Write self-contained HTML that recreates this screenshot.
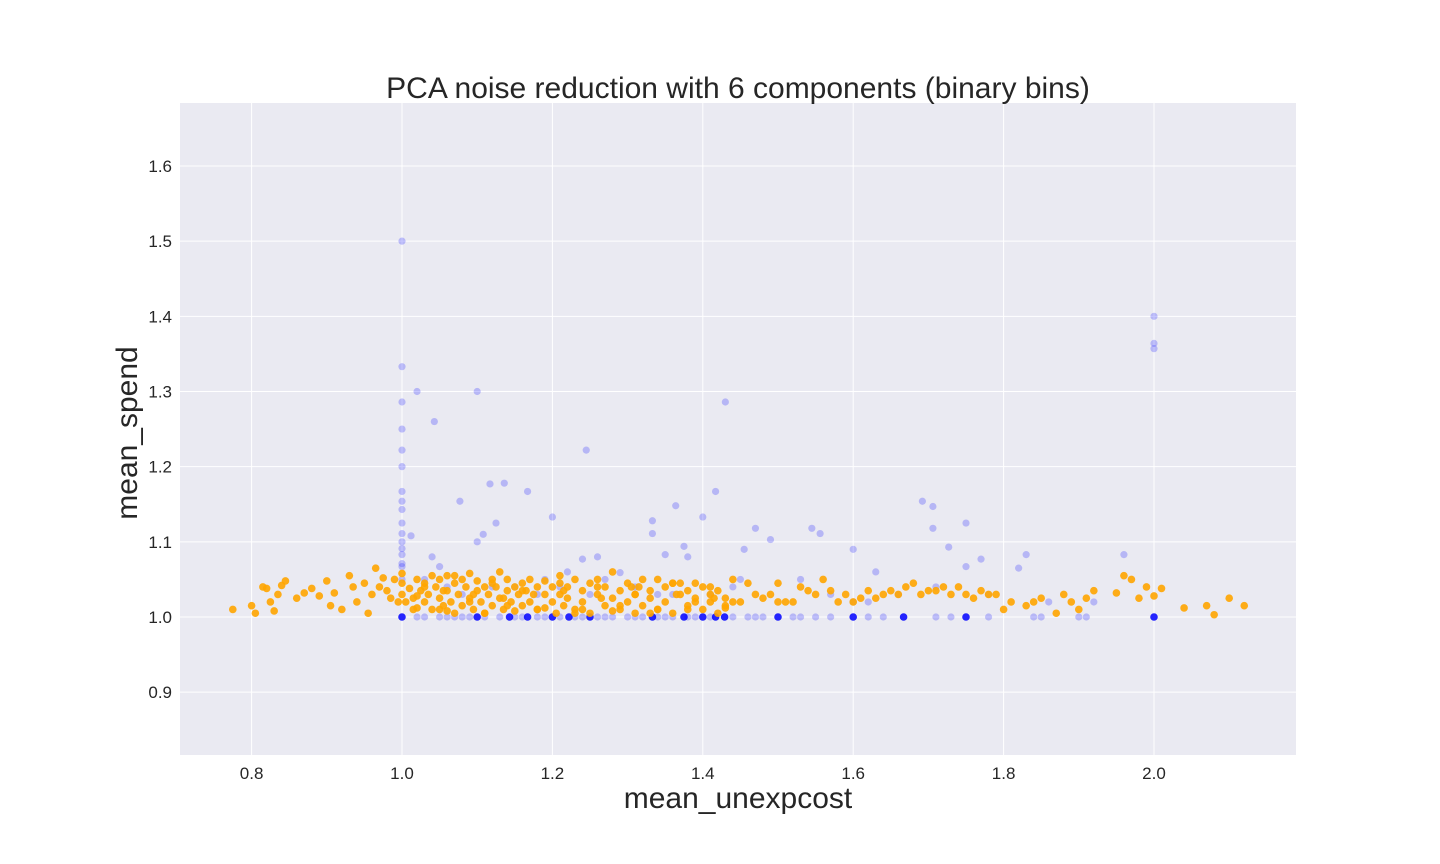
<!DOCTYPE html>
<html><head><meta charset="utf-8"><style>
html,body{margin:0;padding:0;background:#fff;}
svg{display:block;font-family:"Liberation Sans",Arial,sans-serif;}
</style></head><body>
<svg id="chart" width="1440" height="864"></svg>
<script>
const xTicks=[0.8,1.0,1.2,1.4,1.6,1.8,2.0];
const yTicks=[0.9,1.0,1.1,1.2,1.3,1.4,1.5,1.6];
const blueX=[1,1,1,1,1,1,1,1,1,1,1,1,1,1,1,1,1,1.02,1.043,1.1,1.012,1.245,1.43,1.077,1.117,1.136,1.167,1.2,1.108,1.125,1.1,1.333,1.364,1.4,1.417,1.47,1.49,1.455,1.333,1.375,1.545,1.556,1.6,1.692,1.706,1.706,1.75,1.727,1.77,1.83,1.82,1.96,2,2,2,1.63,1.24,1.26,1.22,1.29,1.35,1.04,1.05,1.03,1.06,1.38,1.53,1.45,1.57,1.75,1.92,1.21,1.19,1.31,1.27,1.08,1.12,1.25,1.44,1.41,1.36,1.62,1.66,1.71,1.78,1.86,1.6,1.18,1.15,1.34,
1.02,1.03,1.05,1.06,1.07,1.08,1.09,1.11,1.13,1.15,1.16,1.18,1.19,1.21,1.23,1.24,1.26,1.27,1.28,1.3,1.31,1.32,1.34,1.35,1.36,1.38,1.39,1.41,1.44,1.46,1.47,1.48,1.52,1.53,1.55,1.57,1.62,1.64,1.71,1.73,1.78,1.84,1.85,1.9,1.91];
const blueY=[1.5,1.333,1.286,1.25,1.222,1.2,1.167,1.154,1.143,1.125,1.111,1.1,1.091,1.083,1.071,1.067,1.05,1.3,1.26,1.3,1.108,1.222,1.286,1.154,1.177,1.178,1.167,1.133,1.11,1.125,1.1,1.128,1.148,1.133,1.167,1.118,1.103,1.09,1.111,1.094,1.118,1.111,1.09,1.154,1.147,1.118,1.125,1.093,1.077,1.083,1.065,1.083,1.4,1.364,1.357,1.06,1.077,1.08,1.06,1.059,1.083,1.08,1.067,1.05,1.04,1.08,1.05,1.05,1.03,1.067,1.02,1.04,1.05,1.04,1.05,1.03,1.04,1.03,1.04,1.03,1.03,1.02,1.03,1.04,1.03,1.02,1.02,1.03,1.04,1.03,
1,1,1,1,1,1,1,1,1,1,1,1,1,1,1,1,1,1,1,1,1,1,1,1,1,1,1,1,1,1,1,1,1,1,1,1,1,1,1,1,1,1,1,1,1];
const darkX=[1,1.1,1.143,1.167,1.2,1.222,1.25,1.333,1.375,1.4,1.417,1.429,1.5,1.6,1.667,1.75,2];
const darkY=[1,1,1,1,1,1,1,1,1,1,1,1,1,1,1,1,1];
const orangeX=[0.775,0.8,0.805,0.815,0.82,0.825,0.83,0.835,0.84,0.845,0.86,0.87,0.88,0.89,0.9,0.905,0.91,0.92,0.93,0.935,0.94,0.95,0.955,0.96,0.965,0.97,0.975,0.98,0.985,0.99,0.995,
1.0,1.0,1.0,1.005,1.01,1.015,1.02,1.02,1.025,1.03,
1.03,1.035,1.04,1.04,1.045,1.05,1.05,1.055,1.06,1.06,
1.065,1.07,1.07,1.075,1.08,1.08,1.085,1.09,1.09,1.095,
1.1,1.1,1.105,1.11,1.11,1.115,1.12,1.12,1.125,1.13,
1.13,1.135,1.14,1.14,1.145,1.15,1.15,1.155,1.16,1.16,
1.165,1.17,1.17,1.18,1.18,1.19,1.19,1.2,1.2,1.205,
1.21,1.21,1.215,1.22,1.22,1.23,1.23,1.24,1.24,1.25,
1.25,1.26,1.26,1.27,1.27,1.28,1.28,1.29,1.29,1.3,
1.3,1.305,1.31,1.31,1.32,1.32,1.33,1.33,1.34,1.34,
1.35,1.35,1.36,1.36,1.37,1.37,1.38,1.38,1.39,1.39,
1.4,1.4,1.41,1.41,1.42,1.42,1.43,1.43,1.44,1.44,
1.45,1.46,1.47,1.48,1.49,1.5,1.5,1.51,1.52,1.53,
1.54,1.55,1.56,1.57,1.58,1.59,1.6,1.61,1.62,1.63,
1.64,1.65,1.66,1.67,1.68,1.69,1.7,1.71,1.72,1.73,
1.74,1.75,1.76,1.77,1.78,1.79,1.8,1.81,1.83,1.84,
1.85,1.87,1.88,1.89,1.9,1.91,1.92,1.95,1.96,1.97,
1.98,1.99,2.0,2.01,2.04,2.07,2.08,2.1,2.12,
1.03,1.07,1.12,1.16,1.21,1.26,1.31,1.36,1.41,1.05,1.09,1.14,1.19,1.24,1.29,1.34,1.39,1.02,1.06,1.11,1.18,1.23,1.28,1.33,1.38,1.43,1.015,1.055,1.095,1.135,1.175,1.215,1.265,1.315,1.365,1.415];
const orangeY=[1.01,1.015,1.005,1.04,1.038,1.02,1.008,1.03,1.042,1.048,1.025,1.032,1.038,1.028,1.048,1.015,1.032,1.01,1.055,1.04,1.02,1.045,1.005,1.03,1.065,1.04,1.052,1.035,1.025,1.05,1.02,
1.03,1.045,1.058,1.02,1.038,1.01,1.05,1.028,1.035,1.02,
1.045,1.03,1.055,1.01,1.04,1.025,1.05,1.015,1.035,1.055,
1.02,1.045,1.005,1.03,1.05,1.015,1.04,1.025,1.058,1.01,
1.035,1.048,1.02,1.04,1.005,1.03,1.05,1.015,1.04,1.025,
1.06,1.01,1.035,1.05,1.02,1.04,1.008,1.03,1.045,1.015,
1.035,1.05,1.02,1.04,1.01,1.03,1.048,1.02,1.04,1.005,
1.03,1.055,1.015,1.04,1.025,1.05,1.01,1.035,1.02,1.045,
1.005,1.03,1.05,1.015,1.04,1.025,1.06,1.01,1.035,1.045,
1.02,1.04,1.005,1.03,1.05,1.015,1.035,1.025,1.05,1.01,
1.04,1.02,1.045,1.005,1.03,1.045,1.015,1.035,1.025,1.045,
1.01,1.04,1.02,1.03,1.005,1.035,1.015,1.025,1.05,1.02,
1.02,1.045,1.03,1.025,1.03,1.02,1.045,1.02,1.02,1.04,
1.035,1.03,1.05,1.035,1.02,1.03,1.02,1.025,1.035,1.025,
1.03,1.035,1.03,1.04,1.045,1.03,1.035,1.035,1.04,1.03,
1.04,1.03,1.025,1.035,1.03,1.03,1.01,1.02,1.015,1.02,
1.025,1.005,1.03,1.02,1.01,1.025,1.035,1.032,1.055,1.05,
1.025,1.04,1.028,1.038,1.012,1.015,1.003,1.025,1.015,
1.04,1.055,1.045,1.035,1.045,1.04,1.03,1.045,1.04,1.01,1.02,1.015,1.012,1.01,1.015,1.01,1.02,1.012,1.008,1.005,1.01,1.005,1.008,1.005,1.01,1.012,1.025,1.035,1.03,1.025,1.03,1.035,1.025,1.04,1.03,1.025];
const NS='http://www.w3.org/2000/svg';
const svg=document.getElementById('chart');
const L=180,R=1296,T=103,B=755;
const X=v=>402+(v-1)*752;
const Y=v=>617-(v-1)*751.7;
function mk(t,a){const e=document.createElementNS(NS,t);for(const k in a)e.setAttribute(k,a[k]);svg.appendChild(e);return e;}
const bg=mk('rect',{x:L,y:T,width:R-L,height:B-T,fill:'#eaeaf2'});


xTicks.forEach(v=>{const g=mk('line',{x1:X(v),x2:X(v),y1:T,y2:B,stroke:'#fff','stroke-width':1});


const t=mk('text',{x:X(v),y:779,'text-anchor':'middle','font-size':17,fill:'#262626'});t.textContent=v.toFixed(1);

});
yTicks.forEach(v=>{const g=mk('line',{x1:L,x2:R,y1:Y(v),y2:Y(v),stroke:'#fff','stroke-width':1});


const t=mk('text',{x:172,y:Y(v)+6,'text-anchor':'end','font-size':17,fill:'#262626'});t.textContent=v.toFixed(1);

});
blueX.forEach((v,i)=>{const c=mk('circle',{cx:X(v),cy:Y(blueY[i]),r:3.6,fill:'rgba(0,0,255,0.22)'});

});
darkX.forEach((v,i)=>{const c=mk('circle',{cx:X(v),cy:Y(darkY[i]),r:3.8,fill:'rgba(0,0,255,0.85)'});

});
orangeX.forEach((v,i)=>{const c=mk('circle',{cx:X(v),cy:Y(orangeY[i]),r:3.8,fill:'rgba(255,165,0,0.9)'});

});
const ti=mk('text',{x:738,y:98,'text-anchor':'middle','font-size':30,fill:'#262626'});ti.textContent='PCA noise reduction with 6 components (binary bins)';


const xl=mk('text',{x:738,y:808,'text-anchor':'middle','font-size':30,fill:'#262626'});xl.textContent='mean_unexpcost';


const yl=mk('text',{x:0,y:0,'text-anchor':'middle','font-size':30,fill:'#262626',transform:'translate(137,433) rotate(-90)'});yl.textContent='mean_spend';


</script>
</body></html>
